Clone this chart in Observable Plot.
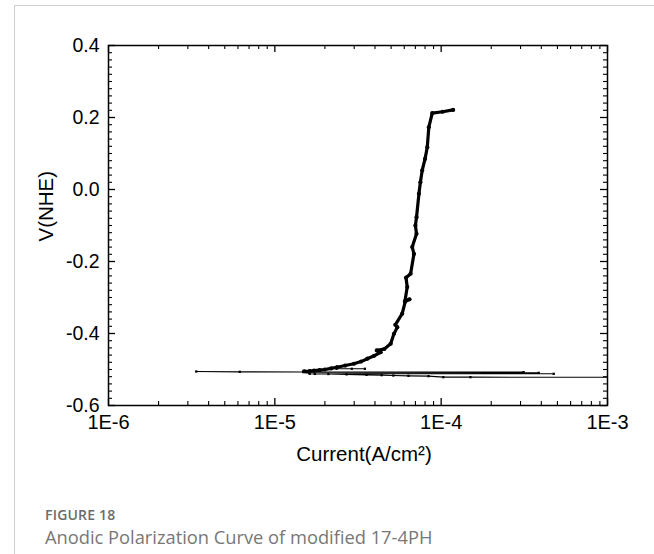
<!DOCTYPE html>
<html>
<head>
<meta charset="utf-8">
<script src="https://cdn.jsdelivr.net/npm/d3@7"></script>
<script src="https://cdn.jsdelivr.net/npm/@observablehq/plot@0.6"></script>
<style>
  html, body { margin: 0; padding: 0; background: #fff; }
  #page { position: relative; width: 654px; height: 554px; overflow: hidden; }
  #card { position: absolute; left: 14px; top: 5px; width: 700px; height: 600px;
          border-left: 1px solid #d0d0d0; border-top: 1px solid #d0d0d0; }
  #chart { position: absolute; left: 0; top: 0; }
  #fig { position: absolute; left: 45px; top: 505px; font-family: "Open Sans", sans-serif;
         font-weight: 600; font-size: 14px; color: #6b6b6b; letter-spacing: 0.2px; line-height: 19px; }
  #cap { position: absolute; left: 45px; top: 524px; font-family: "Open Sans", sans-serif;
         font-weight: 400; font-size: 18.3px; color: #777; line-height: 25px; }
</style>
</head>
<body>
<div id="page">
  <div id="card"></div>
  <div id="chart"></div>
  <div id="fig">FIGURE 18</div>
  <div id="cap">Anodic Polarization Curve of modified 17-4PH</div>
</div>
<script>
// ---- data ----
// noisy sweep around the corrosion potential (A/cm², V vs NHE)
const ecorrCurrent = [3.37e-6, 6.15e-6, 1.48e-5, 3.13e-4, 1.55e-5, 3.86e-4, 1.6e-5, 4.75e-4,
  1.62e-5, 1.74e-5, 2.10e-5, 2.70e-5, 3.56e-5, 4.39e-5, 5.16e-5, 6.36e-5, 8.39e-5, 1.03e-4, 1.50e-4, 1.3e-3];
const ecorrV = [-0.5056, -0.5065, -0.5070, -0.5074, -0.5080, -0.5093, -0.5090, -0.5120,
  -0.5120, -0.5122, -0.5125, -0.5135, -0.5148, -0.5157, -0.5167, -0.5176, -0.5185, -0.5213, -0.5213, -0.5215];
// short excursion just above Ecorr
const spikeCurrent = [2.35e-5, 2.9e-5, 3.48e-5];
const spikeV = [-0.498, -0.498, -0.498];
// anodic branch
const anodicCurrent = [1.50e-5, 1.62e-5, 1.72e-5, 1.86e-5, 2.00e-5, 2.18e-5, 2.37e-5, 2.65e-5, 2.99e-5, 3.30e-5,
  3.60e-5, 3.95e-5, 4.33e-5, 4.10e-5, 4.55e-5, 4.97e-5, 5.20e-5, 5.45e-5, 5.30e-5, 5.83e-5,
  6.11e-5, 6.45e-5, 6.05e-5, 6.25e-5, 6.15e-5, 6.55e-5, 6.86e-5, 6.70e-5, 7.11e-5, 7.00e-5,
  7.11e-5, 7.35e-5, 7.50e-5, 7.69e-5, 8.00e-5, 8.25e-5, 8.43e-5, 8.84e-5, 1.02e-4, 1.18e-4];
const anodicV = [-0.505, -0.5045, -0.503, -0.5015, -0.500, -0.497, -0.4936, -0.489, -0.484, -0.478,
  -0.470, -0.462, -0.452, -0.447, -0.443, -0.4286, -0.401, -0.3825, -0.376, -0.345,
  -0.308, -0.305, -0.312, -0.271, -0.245, -0.234, -0.179, -0.160, -0.123, -0.100,
  -0.077, -0.012, 0.020, 0.053, 0.085, 0.1175, 0.173, 0.212, 0.216, 0.221];

const xTicks = [1e-6, 1e-5, 1e-4, 1e-3];
const xTickLabels = ["1E-6", "1E-5", "1E-4", "1E-3"];
const xMinorTicks = [2e-6,3e-6,4e-6,5e-6,6e-6,7e-6,8e-6,9e-6,
  2e-5,3e-5,4e-5,5e-5,6e-5,7e-5,8e-5,9e-5,
  2e-4,3e-4,4e-4,5e-4,6e-4,7e-4,8e-4,9e-4];
const yTicks = [-0.6, -0.4, -0.2, 0.0, 0.2, 0.4];
const yTickLabels = ["-0.6", "-0.4", "-0.2", "0.0", "0.2", "0.4"];
const yMinorTicks = d3.range(-30, 21).map(i => i / 50).filter(v => !yTicks.some(t => Math.abs(t - v) < 1e-9));
const xTitle = "Current(A/cm²)";
const yTitle = "V(NHE)";

// ---- build ----
const ecorr = ecorrCurrent.map((c, i) => ({c, v: ecorrV[i]}));
const spike = spikeCurrent.map((c, i) => ({c, v: spikeV[i]}));
const anodic = anodicCurrent.map((c, i) => ({c, v: anodicV[i]}));

const W = 654, H = 470, mL = 108, mR = 47, mT = 45, mB = 65;
const fw = W - mL - mR, fh = H - mT - mB;
const font = "'Liberation Sans', Arial, sans-serif";
const major = 7, minor = 4;

const chart = Plot.plot({
  width: W, height: H,
  marginLeft: mL, marginRight: mR, marginTop: mT, marginBottom: mB,
  style: {fontFamily: font, fontSize: "19.5px", color: "#000", background: "transparent"},
  x: {type: "log", domain: [1e-6, 1e-3]},
  y: {domain: [-0.6, 0.4]},
  marks: [
    Plot.axisX(xTicks, {tickSize: 0, tickPadding: 9, label: null,
      tickFormat: d => xTickLabels[xTicks.indexOf(d)], fontSize: 20}),
    Plot.axisY(yTicks, {tickSize: 0, tickPadding: 9, label: null,
      tickFormat: d => yTickLabels[yTicks.findIndex(t => Math.abs(t - d) < 1e-9)], fontSize: 19.5}),
    // curve
    Plot.line(ecorr, {x: "c", y: "v", stroke: "#000", strokeWidth: 1.1, clip: true}),
    Plot.dot(ecorr, {x: "c", y: "v", symbol: "square", r: 1.3, fill: "#000", clip: true}),
    Plot.line(spike, {x: "c", y: "v", stroke: "#000", strokeWidth: 1.1}),
    Plot.dot(spike, {x: "c", y: "v", symbol: "square", r: 1.3, fill: "#000"}),
    Plot.line(anodic, {x: "c", y: "v", stroke: "#000", strokeWidth: 3.2}),
    Plot.dot(anodic, {x: "c", y: "v", r: 2.1, fill: "#000"}),
    // frame and inward ticks
    Plot.frame({stroke: "#000", strokeWidth: 1.5}),
    Plot.tickX(xTicks, {x: d => d, insetTop: fh - major, stroke: "#000", strokeWidth: 1.3}),
    Plot.tickX(xTicks, {x: d => d, insetBottom: fh - major, stroke: "#000", strokeWidth: 1.3}),
    Plot.tickX(xMinorTicks, {x: d => d, insetTop: fh - minor, stroke: "#000", strokeWidth: 1.1}),
    Plot.tickX(xMinorTicks, {x: d => d, insetBottom: fh - minor, stroke: "#000", strokeWidth: 1.1}),
    Plot.tickY(yTicks, {y: d => d, insetRight: fw - major, stroke: "#000", strokeWidth: 1.3}),
    Plot.tickY(yTicks, {y: d => d, insetLeft: fw - major, stroke: "#000", strokeWidth: 1.3}),
    Plot.tickY(yMinorTicks, {y: d => d, insetRight: fw - minor, stroke: "#000", strokeWidth: 1.1}),
    Plot.tickY(yMinorTicks, {y: d => d, insetLeft: fw - minor, stroke: "#000", strokeWidth: 1.1}),
    // axis titles
    Plot.text([xTitle], {text: d => d, frameAnchor: "bottom", dy: 55, dx: 6, fontSize: 20.5, fill: "#000"}),
    Plot.text([yTitle], {text: d => d, frameAnchor: "left", rotate: -90, dx: -62, dy: 16, fontSize: 20.5, fill: "#000"})
  ]
});
document.getElementById("chart").appendChild(chart);
</script>
</body>
</html>
